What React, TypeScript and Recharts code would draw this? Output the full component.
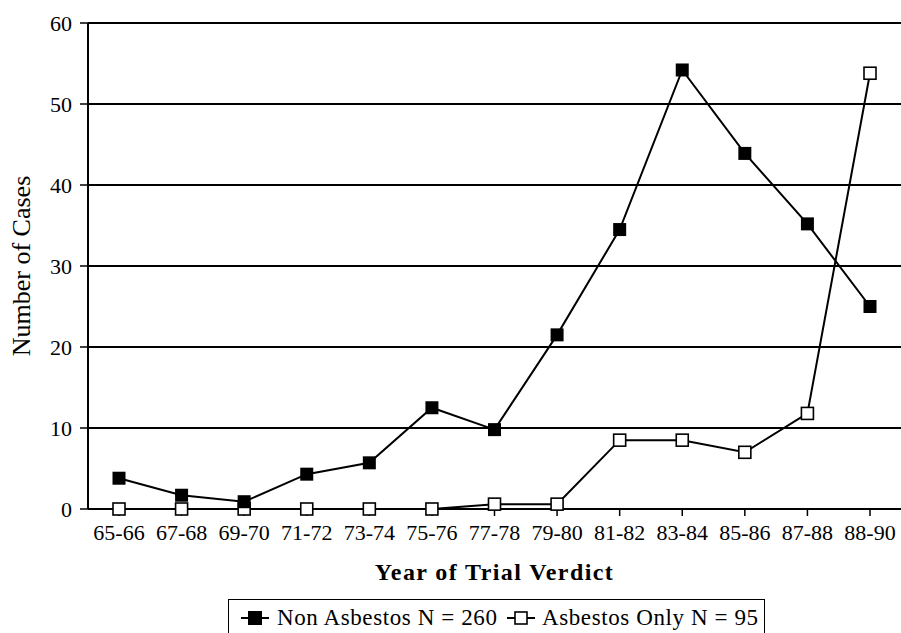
import React from 'react';
import { LineChart, Line, XAxis, YAxis, CartesianGrid, Legend } from 'recharts';

const years = ['65-66', '67-68', '69-70', '71-72', '73-74', '75-76', '77-78', '79-80', '81-82', '83-84', '85-86', '87-88', '88-90'];
const nonAsbestos = [3.8, 1.7, 0.9, 4.3, 5.7, 12.5, 9.8, 21.5, 34.5, 54.2, 43.9, 35.2, 25];
const asbestosOnly = [0, 0, 0, 0, 0, 0, 0.6, 0.6, 8.5, 8.5, 7, 11.8, 53.8];
const yTicks = [0, 10, 20, 30, 40, 50, 60];
const seriesNames = ['Non Asbestos N = 260', 'Asbestos Only N = 95'];

const data = years.map((year, i) => ({
  year,
  non: nonAsbestos[i],
  asb: asbestosOnly[i],
}));

const FONT = "'Liberation Serif', serif";

// square markers, filled or hollow
const filledDot = (props: any) => (
  <rect key={`f-${props.index}`} x={props.cx - 6.5} y={props.cy - 6.5} width={13} height={13} fill="#000" />
);
const hollowDot = (props: any) => (
  <rect key={`h-${props.index}`} x={props.cx - 6} y={props.cy - 6} width={12} height={12} fill="#fff" stroke="#000" strokeWidth={1.6} />
);

const LegendIcon = ({ filled }: { filled: boolean }) => (
  <svg width={30} height={16} style={{ display: 'block' }}>
    <line x1={1} y1={8} x2={29} y2={8} stroke="#000" strokeWidth={2} />
    {filled
      ? <rect x={8} y={1} width={14} height={14} fill="#000" />
      : <rect x={9} y={2} width={12} height={12} fill="#fff" stroke="#000" strokeWidth={1.6} />}
  </svg>
);

const renderLegend = () => (
  <div style={{
    boxSizing: 'border-box', width: 537, height: 40, border: '1.5px solid #000',
    display: 'flex', alignItems: 'flex-start', paddingTop: 5, paddingLeft: 11,
    fontFamily: FONT, fontSize: 23, color: '#000', letterSpacing: 0.6, lineHeight: '25px',
  }}>
    <div style={{ display: 'flex', alignItems: 'center', width: 266 }}>
      <LegendIcon filled />
      <span style={{ marginLeft: 7 }}>{seriesNames[0]}</span>
    </div>
    <div style={{ display: 'flex', alignItems: 'center' }}>
      <LegendIcon filled={false} />
      <span style={{ marginLeft: 6 }}>{seriesNames[1]}</span>
    </div>
  </div>
);

export default function App() {
  return (
    <div style={{ position: 'absolute', left: 0, top: 0, background: '#fff', fontFamily: FONT }}>
      <LineChart width={901} height={633} data={data} margin={{ top: 23, right: 0, left: 0, bottom: 4 }}>
        <CartesianGrid vertical={false} stroke="#000" strokeWidth={2} />
        <XAxis
          dataKey="year"
          interval={0}
          height={80}
          padding={{ left: 31, right: 31 }}
          tickSize={7}
          tickMargin={8}
          axisLine={{ stroke: '#000', strokeWidth: 2 }}
          tickLine={{ stroke: '#000', strokeWidth: 1.5 }}
          tick={{ fill: '#000', fontSize: 22, fontFamily: FONT }}
          label={{ value: 'Year of Trial Verdict', position: 'insideBottom', offset: 9, fill: '#000', fontSize: 24, fontWeight: 'bold', fontFamily: FONT, letterSpacing: 1.4 }}
        />
        <YAxis
          width={88}
          domain={[0, 60]}
          ticks={yTicks}
          interval={0}
          tickSize={8}
          tickMargin={8}
          axisLine={{ stroke: '#000', strokeWidth: 2 }}
          tickLine={{ stroke: '#000', strokeWidth: 1.5 }}
          tick={{ fill: '#000', fontSize: 22, fontFamily: FONT }}
          label={{ value: 'Number of Cases', angle: -90, position: 'insideLeft', offset: 21, fill: '#000', fontSize: 26, fontFamily: FONT, style: { textAnchor: 'middle' } }}
        />
        <Legend verticalAlign="bottom" content={renderLegend} wrapperStyle={{ left: 228, bottom: -6, width: 537 }} />
        <Line dataKey="asb" stroke="#000" strokeWidth={2} dot={hollowDot} activeDot={false} isAnimationActive={false} />
        <Line dataKey="non" stroke="#000" strokeWidth={2} dot={filledDot} activeDot={false} isAnimationActive={false} />
      </LineChart>
    </div>
  );
}
